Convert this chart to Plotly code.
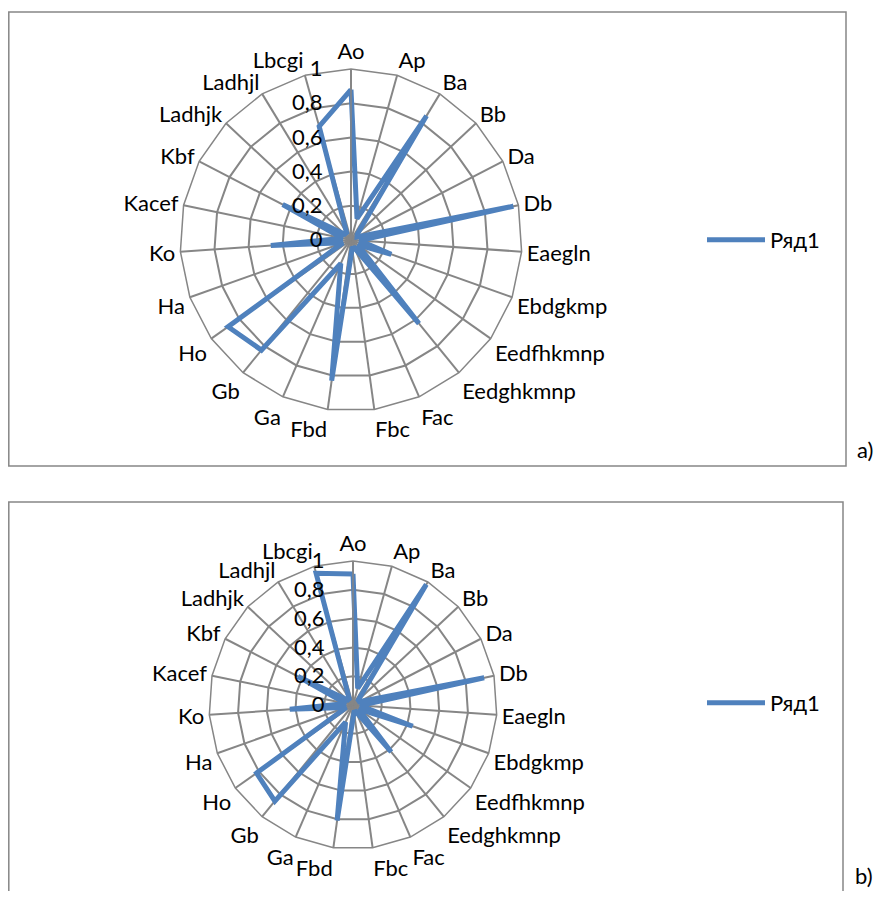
import plotly.graph_objects as go

categories = ["Ao", "Ap", "Ba", "Bb", "Da", "Db", "Eaegln", "Ebdgkmp", "Eedfhkmnp",
              "Eedghkmnp", "Fac", "Fbc", "Fbd", "Ga", "Gb", "Ho", "Ha", "Ko", "Kacef",
              "Kbf", "Ladhjk", "Ladhjl", "Lbcgi"]

values_a = [0.88, 0.13, 0.85, 0.05, 0.04, 0.97, 0.05, 0.25, 0.05,
            0.63, 0.05, 0.05, 0.83, 0.15, 0.83, 0.88, 0.05, 0.47, 0.05,
            0.45, 0.05, 0.05, 0.69]

values_b = [0.91, 0.12, 0.98, 0.05, 0.05, 0.93, 0.05, 0.44, 0.05,
            0.42, 0.05, 0.05, 0.81, 0.13, 0.86, 0.82, 0.05, 0.44, 0.05,
            0.43, 0.05, 0.05, 0.95]

tick_vals = [0, 0.2, 0.4, 0.6, 0.8, 1]
tick_text = ["0", "0,2", "0,4", "0,6", "0,8", "1"]

series_name = "Ряд1"
panel_labels = ["a)", "b)"]

# page has an 8px body margin; figure coordinates = page coordinates - 8
OFF = 8
W, H = 867, 883
BLUE = "#4F81BD"
GRID = "#868686"
FONT = "Lato"
FS = 22


def fx(px):
    return (px - OFF) / W


def fy(py):
    return 1 - (py - OFF) / H


def px_domain(cx, cy, r):
    return dict(x=[fx(cx - r), fx(cx + r)], y=[fy(cy + r), fy(cy - r)])


fig = go.Figure()
fig.add_trace(go.Scatterpolar(r=values_a + values_a[:1], theta=categories + categories[:1],
                              mode="lines", line=dict(color=BLUE, width=5),
                              name=series_name, subplot="polar", legend="legend",
                              showlegend=True))
fig.add_trace(go.Scatterpolar(r=values_b + values_b[:1], theta=categories + categories[:1],
                              mode="lines", line=dict(color=BLUE, width=5),
                              name=series_name, subplot="polar2", legend="legend2",
                              showlegend=True))


def polar_cfg(cx, cy, r):
    return dict(
        domain=px_domain(cx, cy, r),
        gridshape="linear",
        bgcolor="white",
        angularaxis=dict(direction="clockwise", rotation=90, type="category",
                         categoryarray=categories, categoryorder="array",
                         showline=True, linecolor=GRID, linewidth=1.5,
                         gridcolor=GRID, gridwidth=1.5, ticks="",
                         tickfont=dict(family=FONT, size=FS, color="black")),
        radialaxis=dict(range=[0, 1], tickvals=tick_vals, ticktext=tick_text,
                        angle=90, tickangle=90, side="counterclockwise",
                        showline=True, linecolor=GRID, linewidth=1.5,
                        gridcolor=GRID, gridwidth=1.5,
                        ticks="outside", ticklen=20, tickcolor="rgba(0,0,0,0)",
                        tickfont=dict(family=FONT, size=FS, color="black")),
    )


legend_common = dict(xanchor="left", yanchor="middle", itemwidth=58,
                     bgcolor="rgba(0,0,0,0)",
                     font=dict(family=FONT, size=FS, color="black"))

fig.update_layout(
    width=W, height=H,
    margin=dict(l=0, r=0, t=0, b=0),
    paper_bgcolor="white",
    showlegend=True,
    font=dict(family=FONT, size=FS, color="black"),
    polar=polar_cfg(351, 240, 171),
    polar2=polar_cfg(353, 705, 144),
    legend=dict(x=fx(702), y=fy(240), **legend_common),
    legend2=dict(x=fx(702), y=fy(703), **legend_common),
    shapes=[
        dict(type="rect", xref="paper", yref="paper",
             x0=fx(8.8), x1=fx(846), y0=fy(466), y1=fy(12),
             line=dict(color=GRID, width=1.5), fillcolor="rgba(0,0,0,0)"),
        dict(type="rect", xref="paper", yref="paper",
             x0=fx(8.8), x1=fx(843), y0=fy(915), y1=fy(502),
             line=dict(color=GRID, width=1.5), fillcolor="rgba(0,0,0,0)"),
    ],
    annotations=[
        dict(text=panel_labels[0], xref="paper", yref="paper", x=1, y=fy(450),
             showarrow=False, xanchor="right", yanchor="middle",
             font=dict(family=FONT, size=FS, color="black")),
        dict(text=panel_labels[1], xref="paper", yref="paper", x=1, y=fy(875),
             showarrow=False, xanchor="right", yanchor="middle",
             font=dict(family=FONT, size=FS, color="black")),
    ],
)

fig.write_html("out.html")
